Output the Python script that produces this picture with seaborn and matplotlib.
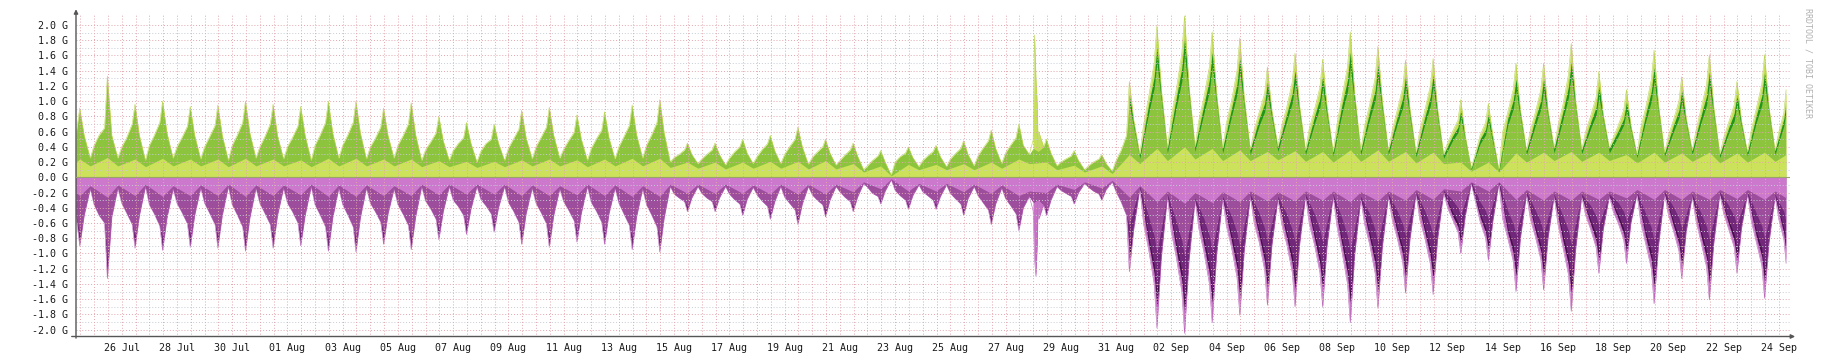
import numpy as np
import pandas as pd
import matplotlib
matplotlib.use("Agg")
import matplotlib.pyplot as plt
import seaborn as sns

sns.set_style("white")
plt.rcParams["font.family"] = ["DejaVu Sans Mono", "DejaVu Sans"]

# DATA (values in G)
# time axis = days since 24 Jul 00:00, day k = 1..62 is the k-th midnight.
# Each day is read at a few moments: peak (just before midnight), post
# (after midnight), trough (morning), morn, rise (afternoon), eve.
t_start = 0.845
t_end = 62.76
offsets = {"pk": -0.02, "post": 0.14, "tr": 0.36, "morn": 0.50, "ri": 0.68, "ev": 0.88}

# ---- upper side (green) ----
up_peak = [0.91, 1.33, 0.96, 1.00, 0.93, 0.95, 1.00, 0.96, 0.93, 1.00,
           1.00, 0.91, 0.98, 0.80, 0.72, 0.70, 0.88, 0.92, 0.82, 0.86,
           0.95, 1.02, 0.45, 0.45, 0.50, 0.55, 0.66, 0.50, 0.45, 0.35,
           0.40, 0.42, 0.48, 0.62, 0.70, 0.50, 0.35, 0.30, 1.26, 1.99,
           2.12, 1.91, 1.83, 1.45, 1.63, 1.55, 1.91, 1.72, 1.54, 1.56,
           1.02, 0.97, 1.50, 1.50, 1.76, 1.39, 1.15, 1.67, 1.32, 1.61,
           1.26, 1.61]
up_post = [0.55, 0.55, 0.55, 0.58, 0.55, 0.55, 0.58, 0.55, 0.55, 0.58,
           0.58, 0.55, 0.56, 0.48, 0.45, 0.45, 0.52, 0.55, 0.50, 0.52,
           0.56, 0.58, 0.30, 0.30, 0.32, 0.35, 0.40, 0.32, 0.28, 0.20,
           0.26, 0.27, 0.30, 0.38, 0.42, 0.32, 0.22, 0.18, 0.75, 1.15,
           1.20, 1.10, 1.05, 0.88, 0.95, 0.92, 1.10, 1.00, 0.90, 0.90,
           0.55, 0.55, 0.88, 0.88, 1.00, 0.82, 0.68, 0.95, 0.78, 0.92,
           0.75, 0.92]
up_trough = [0.25, 0.25, 0.22, 0.25, 0.24, 0.22, 0.25, 0.24, 0.22, 0.25,
             0.24, 0.25, 0.22, 0.22, 0.20, 0.22, 0.24, 0.25, 0.22, 0.24,
             0.25, 0.20, 0.18, 0.16, 0.18, 0.18, 0.17, 0.16, 0.10, 0.03,
             0.14, 0.14, 0.15, 0.18, 0.30, 0.15, 0.10, 0.08, 0.30, 0.38,
             0.40, 0.38, 0.36, 0.40, 0.35, 0.33, 0.35, 0.35, 0.32, 0.30,
             0.12, 0.10, 0.35, 0.38, 0.36, 0.38, 0.30, 0.32, 0.35, 0.30,
             0.33, 0.35]
up_morn = [0.42, 0.40, 0.42, 0.40, 0.40, 0.42, 0.40, 0.40, 0.42, 0.42,
           0.40, 0.42, 0.36, 0.35, 0.34, 0.38, 0.40, 0.37, 0.38, 0.40,
           0.42, 0.26, 0.24, 0.25, 0.27, 0.30, 0.26, 0.22, 0.15, 0.20,
           0.22, 0.24, 0.28, 0.32, 0.38, 0.20, 0.15, 0.22, 0.70, 0.80,
           0.75, 0.72, 0.62, 0.68, 0.65, 0.70, 0.68, 0.62, 0.62, 0.45,
           0.30, 0.60, 0.62, 0.68, 0.60, 0.52, 0.65, 0.55, 0.62, 0.52,
           0.62, 0.60]
up_rise = [0.55, 0.52, 0.55, 0.52, 0.53, 0.55, 0.53, 0.52, 0.55, 0.55,
           0.51, 0.54, 0.46, 0.44, 0.44, 0.50, 0.52, 0.48, 0.50, 0.53,
           0.55, 0.30, 0.30, 0.33, 0.36, 0.40, 0.33, 0.29, 0.22, 0.27,
           0.28, 0.31, 0.38, 0.42, 0.34, 0.24, 0.20, 0.35, 1.05, 1.15,
           1.05, 1.00, 0.85, 0.92, 0.88, 1.05, 0.95, 0.88, 0.88, 0.60,
           0.55, 0.85, 0.85, 0.95, 0.80, 0.68, 0.92, 0.75, 0.90, 0.72,
           0.90, 0.85]
up_eve = [0.65, 0.70, 0.72, 0.67, 0.68, 0.72, 0.70, 0.67, 0.72, 0.72,
          0.66, 0.70, 0.58, 0.52, 0.50, 0.63, 0.66, 0.59, 0.62, 0.68,
          0.72, 0.36, 0.36, 0.40, 0.44, 0.50, 0.40, 0.36, 0.28, 0.32,
          0.34, 0.38, 0.48, 0.52, 0.40, 0.28, 0.24, 0.55, 1.50, 1.62,
          1.45, 1.40, 1.10, 1.25, 1.18, 1.45, 1.30, 1.18, 1.20, 0.75,
          0.72, 1.15, 1.15, 1.35, 1.05, 0.88, 1.28, 1.00, 1.22, 0.95,
          1.22, 1.05]
up_base_pk = [0.24, 0.26, 0.24, 0.25, 0.24, 0.24, 0.25, 0.24, 0.23, 0.25,
              0.25, 0.24, 0.24, 0.22, 0.21, 0.21, 0.23, 0.24, 0.23, 0.24,
              0.25, 0.25, 0.20, 0.20, 0.20, 0.21, 0.21, 0.22, 0.18, 0.15,
              0.17, 0.17, 0.18, 0.20, 0.24, 0.20, 0.16, 0.15, 0.30, 0.38,
              0.40, 0.38, 0.36, 0.34, 0.35, 0.34, 0.36, 0.36, 0.34, 0.33,
              0.20, 0.20, 0.32, 0.33, 0.34, 0.33, 0.30, 0.33, 0.32, 0.33,
              0.32, 0.33]
up_base_tr = [0.15, 0.15, 0.14, 0.15, 0.15, 0.14, 0.15, 0.15, 0.14, 0.15,
              0.15, 0.15, 0.14, 0.14, 0.13, 0.14, 0.15, 0.15, 0.14, 0.15,
              0.15, 0.13, 0.12, 0.11, 0.12, 0.12, 0.11, 0.11, 0.07, 0.02,
              0.10, 0.10, 0.10, 0.12, 0.18, 0.10, 0.07, 0.05, 0.18, 0.22,
              0.24, 0.22, 0.22, 0.23, 0.21, 0.20, 0.21, 0.21, 0.19, 0.18,
              0.08, 0.07, 0.20, 0.22, 0.21, 0.22, 0.19, 0.20, 0.21, 0.19,
              0.20, 0.21]
# September inner layers (days 39..62): dark green band and main green
sep_up_dark_pk = [1.08, 1.71, 1.82, 1.64, 1.57, 1.25, 1.40, 1.33, 1.64, 1.48,
                  1.32, 1.34, 0.88, 0.83, 1.29, 1.29, 1.51, 1.20, 0.99, 1.44,
                  1.14, 1.38, 1.08, 1.38]
sep_up_dark_ri = [0.95, 1.04, 0.95, 0.90, 0.77, 0.83, 0.79, 0.95, 0.86, 0.79,
                  0.79, 0.54, 0.50, 0.77, 0.77, 0.86, 0.72, 0.61, 0.83, 0.68,
                  0.81, 0.65, 0.81, 0.77]
sep_up_dark_ev = [1.32, 1.43, 1.28, 1.23, 0.97, 1.10, 1.04, 1.28, 1.14, 1.04,
                  1.06, 0.66, 0.63, 1.01, 1.01, 1.19, 0.92, 0.77, 1.13, 0.88,
                  1.07, 0.84, 1.07, 0.92]
sep_up_mid_pk = [0.96, 1.51, 1.61, 1.45, 1.39, 1.10, 1.24, 1.18, 1.45, 1.31,
                 1.17, 1.19, 0.78, 0.74, 1.14, 1.14, 1.34, 1.06, 0.87, 1.27,
                 1.00, 1.22, 0.96, 1.22]
sep_up_mid_tr = [0.25, 0.32, 0.34, 0.32, 0.30, 0.34, 0.30, 0.28, 0.30, 0.30,
                 0.27, 0.25, 0.10, 0.08, 0.30, 0.32, 0.31, 0.32, 0.26, 0.28,
                 0.30, 0.26, 0.28, 0.30]
sep_up_mid_ri = [0.84, 0.92, 0.84, 0.80, 0.68, 0.74, 0.70, 0.84, 0.76, 0.70,
                 0.70, 0.48, 0.44, 0.68, 0.68, 0.76, 0.64, 0.54, 0.74, 0.60,
                 0.72, 0.58, 0.72, 0.68]
sep_up_mid_ev = [1.17, 1.26, 1.13, 1.09, 0.86, 0.98, 0.92, 1.13, 1.01, 0.92,
                 0.94, 0.59, 0.56, 0.90, 0.90, 1.05, 0.82, 0.69, 1.00, 0.78,
                 0.95, 0.74, 0.95, 0.82]

# ---- lower side (purple), as magnitudes ----
lo_peak = [0.90, 1.33, 0.93, 0.96, 0.92, 0.93, 0.97, 0.93, 0.90, 0.97,
           0.98, 0.88, 0.95, 0.82, 0.75, 0.72, 0.88, 0.92, 0.85, 0.88,
           0.95, 0.98, 0.45, 0.45, 0.50, 0.55, 0.62, 0.52, 0.45, 0.35,
           0.42, 0.42, 0.50, 0.62, 0.70, 0.50, 0.35, 0.30, 1.24, 1.98,
           2.05, 1.91, 1.81, 1.68, 1.70, 1.70, 1.91, 1.72, 1.52, 1.54,
           1.00, 1.09, 1.50, 1.48, 1.76, 1.26, 1.13, 1.66, 1.33, 1.61,
           1.26, 1.59]
lo_post = [0.50, 0.52, 0.50, 0.53, 0.50, 0.50, 0.53, 0.50, 0.50, 0.53,
           0.53, 0.48, 0.52, 0.45, 0.42, 0.40, 0.48, 0.50, 0.47, 0.48,
           0.52, 0.53, 0.27, 0.27, 0.29, 0.32, 0.35, 0.30, 0.26, 0.18,
           0.24, 0.25, 0.28, 0.35, 0.40, 0.30, 0.20, 0.16, 0.68, 1.05,
           1.10, 1.02, 0.97, 0.90, 0.90, 0.90, 1.02, 0.92, 0.82, 0.82,
           0.52, 0.58, 0.80, 0.80, 0.95, 0.68, 0.60, 0.90, 0.72, 0.87,
           0.68, 0.86]
lo_trough = [0.15, 0.14, 0.12, 0.15, 0.14, 0.12, 0.14, 0.14, 0.12, 0.14,
             0.14, 0.15, 0.12, 0.12, 0.12, 0.12, 0.14, 0.15, 0.12, 0.14,
             0.15, 0.12, 0.12, 0.12, 0.13, 0.12, 0.12, 0.12, 0.08, 0.03,
             0.10, 0.10, 0.12, 0.14, 0.25, 0.12, 0.08, 0.06, 0.15, 0.25,
             0.30, 0.28, 0.25, 0.28, 0.25, 0.25, 0.28, 0.25, 0.22, 0.20,
             0.08, 0.08, 0.22, 0.25, 0.25, 0.25, 0.22, 0.22, 0.25, 0.22,
             0.22, 0.25]
lo_morn = [0.36, 0.34, 0.36, 0.34, 0.34, 0.36, 0.34, 0.34, 0.36, 0.36,
           0.34, 0.36, 0.31, 0.30, 0.29, 0.33, 0.34, 0.32, 0.33, 0.34,
           0.36, 0.22, 0.21, 0.22, 0.23, 0.26, 0.23, 0.19, 0.13, 0.17,
           0.19, 0.21, 0.24, 0.28, 0.33, 0.17, 0.13, 0.19, 0.62, 0.72,
           0.68, 0.65, 0.60, 0.62, 0.62, 0.65, 0.62, 0.56, 0.56, 0.40,
           0.30, 0.55, 0.55, 0.62, 0.50, 0.45, 0.60, 0.50, 0.58, 0.48,
           0.58, 0.56]
lo_rise = [0.50, 0.47, 0.48, 0.46, 0.47, 0.49, 0.47, 0.45, 0.49, 0.49,
           0.45, 0.48, 0.41, 0.38, 0.37, 0.44, 0.46, 0.43, 0.44, 0.48,
           0.49, 0.27, 0.27, 0.29, 0.31, 0.34, 0.30, 0.26, 0.21, 0.24,
           0.24, 0.28, 0.33, 0.37, 0.29, 0.21, 0.18, 0.32, 0.95, 1.05,
           0.98, 0.92, 0.85, 0.88, 0.88, 0.98, 0.88, 0.80, 0.80, 0.55,
           0.58, 0.80, 0.78, 0.92, 0.68, 0.60, 0.88, 0.70, 0.85, 0.68,
           0.85, 0.82]
lo_eve = [0.60, 0.62, 0.64, 0.61, 0.62, 0.65, 0.62, 0.60, 0.65, 0.65,
          0.59, 0.63, 0.55, 0.50, 0.48, 0.59, 0.61, 0.57, 0.59, 0.63,
          0.65, 0.32, 0.32, 0.35, 0.38, 0.43, 0.36, 0.32, 0.25, 0.30,
          0.30, 0.35, 0.43, 0.48, 0.36, 0.25, 0.22, 0.50, 1.40, 1.50,
          1.40, 1.32, 1.22, 1.25, 1.25, 1.40, 1.26, 1.12, 1.14, 0.72,
          0.80, 1.10, 1.08, 1.28, 0.92, 0.82, 1.20, 0.97, 1.18, 0.92,
          1.16, 1.10]
lo_mid_pk = [0.74, 1.05, 0.76, 0.79, 0.75, 0.76, 0.80, 0.76, 0.74, 0.80,
             0.80, 0.72, 0.78, 0.67, 0.62, 0.59, 0.72, 0.75, 0.70, 0.72,
             0.78, 0.80, 0.38, 0.38, 0.42, 0.46, 0.52, 0.42, 0.38, 0.30,
             0.36, 0.36, 0.42, 0.52, 0.58, 0.42, 0.30, 0.26, 0.62, 0.99,
             1.03, 0.96, 0.91, 0.84, 0.85, 0.85, 0.96, 0.86, 0.76, 0.77,
             0.50, 0.55, 0.75, 0.74, 0.88, 0.63, 0.57, 0.83, 0.67, 0.81,
             0.63, 0.80]
lo_base_pk = [0.24, 0.26, 0.24, 0.25, 0.24, 0.24, 0.25, 0.24, 0.23, 0.25,
              0.25, 0.24, 0.24, 0.23, 0.22, 0.22, 0.24, 0.24, 0.23, 0.24,
              0.25, 0.25, 0.21, 0.21, 0.21, 0.22, 0.22, 0.22, 0.19, 0.15,
              0.18, 0.18, 0.19, 0.21, 0.24, 0.20, 0.16, 0.14, 0.26, 0.32,
              0.34, 0.33, 0.32, 0.31, 0.31, 0.30, 0.32, 0.31, 0.30, 0.29,
              0.18, 0.18, 0.29, 0.30, 0.30, 0.29, 0.27, 0.29, 0.29, 0.29,
              0.28, 0.29]
lo_base_tr = [0.11, 0.10, 0.09, 0.11, 0.10, 0.09, 0.10, 0.10, 0.09, 0.10,
              0.10, 0.11, 0.09, 0.09, 0.09, 0.09, 0.10, 0.11, 0.09, 0.10,
              0.11, 0.09, 0.09, 0.09, 0.10, 0.09, 0.09, 0.09, 0.06, 0.02,
              0.08, 0.08, 0.09, 0.10, 0.18, 0.09, 0.06, 0.04, 0.11, 0.18,
              0.20, 0.19, 0.18, 0.19, 0.18, 0.18, 0.19, 0.18, 0.16, 0.15,
              0.06, 0.06, 0.16, 0.18, 0.18, 0.18, 0.16, 0.16, 0.18, 0.16,
              0.16, 0.18]
# September inner layers (days 39..62): near-black, dark and medium purple
sep_lo_vdark_pk = [1.07, 1.70, 1.76, 1.64, 1.56, 1.44, 1.46, 1.46, 1.64, 1.48,
                   1.31, 1.32, 0.86, 0.94, 1.29, 1.27, 1.51, 1.08, 0.97, 1.43,
                   1.14, 1.38, 1.08, 1.37]
sep_lo_vdark_ri = [0.86, 0.95, 0.88, 0.83, 0.77, 0.79, 0.79, 0.88, 0.79, 0.72,
                   0.72, 0.50, 0.52, 0.72, 0.70, 0.83, 0.61, 0.54, 0.79, 0.63,
                   0.77, 0.61, 0.77, 0.74]
sep_lo_vdark_ev = [1.26, 1.35, 1.26, 1.19, 1.10, 1.13, 1.13, 1.26, 1.13, 1.01,
                   1.03, 0.65, 0.72, 0.99, 0.97, 1.15, 0.83, 0.74, 1.08, 0.87,
                   1.06, 0.83, 1.04, 0.99]
sep_lo_dark_pk = [0.97, 1.54, 1.60, 1.49, 1.41, 1.31, 1.33, 1.33, 1.49, 1.34,
                  1.19, 1.20, 0.78, 0.85, 1.17, 1.15, 1.37, 0.98, 0.88, 1.29,
                  1.04, 1.26, 0.98, 1.24]
sep_lo_dark_ri = [0.78, 0.86, 0.80, 0.75, 0.70, 0.72, 0.72, 0.80, 0.72, 0.66,
                  0.66, 0.45, 0.48, 0.66, 0.64, 0.75, 0.56, 0.49, 0.72, 0.57,
                  0.70, 0.56, 0.70, 0.67]
sep_lo_dark_ev = [1.15, 1.23, 1.15, 1.08, 1.00, 1.03, 1.03, 1.15, 1.03, 0.92,
                  0.93, 0.59, 0.66, 0.90, 0.89, 1.05, 0.75, 0.67, 0.98, 0.80,
                  0.97, 0.75, 0.95, 0.90]
sep_lo_mid_tr = [0.12, 0.22, 0.27, 0.25, 0.22, 0.25, 0.22, 0.22, 0.25, 0.22,
                 0.19, 0.17, 0.06, 0.06, 0.19, 0.22, 0.22, 0.22, 0.19, 0.19,
                 0.22, 0.19, 0.19, 0.22]
sep_lo_mid_ri = [0.52, 0.58, 0.54, 0.51, 0.47, 0.48, 0.48, 0.54, 0.48, 0.44,
                 0.44, 0.30, 0.32, 0.44, 0.43, 0.51, 0.37, 0.33, 0.48, 0.39,
                 0.47, 0.37, 0.47, 0.45]
sep_lo_mid_ev = [0.77, 0.83, 0.77, 0.73, 0.67, 0.69, 0.69, 0.77, 0.69, 0.62,
                 0.63, 0.40, 0.44, 0.61, 0.59, 0.70, 0.51, 0.45, 0.66, 0.53,
                 0.65, 0.51, 0.64, 0.61]

# values at the left / right edge of the graph
up_edge = [0.55, 1.15]
up_dark_edge = [0.99]
up_mid_edge = [0.88]
up_base_edge = [0.20, 0.30]
lo_edge = [0.50, 1.13]
lo_vdark_edge = [1.00]
lo_dark_edge = [0.92]
lo_mid_edge = [0.60]
lo_base_edge = [0.20, 0.27]

# short burst on 28 Aug
spike_t = [35.50, 35.55, 35.60, 35.65, 35.70]
spike_up = [0.60, 1.87, 1.30, 0.95, 0.60]
spike_lo = [0.55, 1.08, 1.30, 0.85, 0.55]

# x labels every 2 days
label_dates = pd.date_range("2013-07-26", "2013-09-24", freq="2D")

n_aug = 38  # days 1..38 (before September)


def series(first_day, pts, extra_t=(), extra_v=()):
    t, v = list(extra_t), list(extra_v)
    for key, vals in pts.items():
        d = np.arange(first_day, first_day + len(vals))
        t += list(d + offsets[key])
        v += list(vals)
    s = pd.Series(v, index=t).sort_index()
    s = s[(s.index >= t_start) & (s.index <= t_end)]
    return s.index.values, s.values


def join(a, b):
    return np.concatenate([a[0], b[0]]), np.concatenate([a[1], b[1]])


def draw_side(ax, layers, sign):
    clip = None
    for (t, v), color in layers:
        poly = ax.fill_between(t, 0, sign * v, color=color, linewidth=0, zorder=2)
        if clip is None:
            clip = poly.get_paths()[0]
        else:
            poly.set_clip_path(clip, ax.transData)


def early(lists, n=n_aug):
    return {k: v[:n] for k, v in lists.items()}


up_env = {"pk": up_peak, "post": up_post, "tr": up_trough,
          "morn": up_morn, "ri": up_rise, "ev": up_eve}
lo_env = {"pk": lo_peak, "post": lo_post, "tr": lo_trough,
          "morn": lo_morn, "ri": lo_rise, "ev": lo_eve}
lo_env_mid = dict(lo_env, pk=lo_mid_pk)

up_layers = [
    (series(1, up_env, [t_start, t_end] + spike_t, up_edge + spike_up), "#c6de58"),
    (series(39, {"pk": sep_up_dark_pk, "tr": up_trough[n_aug:],
                 "ri": sep_up_dark_ri, "ev": sep_up_dark_ev},
            [t_end], up_dark_edge), "#1f951c"),
    (join(series(1, early(up_env), [t_start], up_edge[:1]),
          series(39, {"pk": sep_up_mid_pk, "tr": sep_up_mid_tr,
                      "ri": sep_up_mid_ri, "ev": sep_up_mid_ev},
                 [t_end], up_mid_edge)), "#8cc43e"),
    (series(1, {"pk": up_base_pk, "tr": up_base_tr}, [t_start, t_end], up_base_edge), "#cbe25a"),
]
lo_layers = [
    (series(1, lo_env, [t_start, t_end] + spike_t, lo_edge + spike_lo), "#c771c7"),
    (series(39, {"pk": sep_lo_vdark_pk, "tr": lo_trough[n_aug:],
                 "ri": sep_lo_vdark_ri, "ev": sep_lo_vdark_ev},
            [t_end], lo_vdark_edge), "#44104a"),
    (join(series(1, early(lo_env), [t_start], lo_edge[:1]),
          series(39, {"pk": sep_lo_dark_pk, "tr": lo_trough[n_aug:],
                      "ri": sep_lo_dark_ri, "ev": sep_lo_dark_ev},
                 [t_end], lo_dark_edge)), "#72287a"),
    (join(series(1, early(lo_env_mid), [t_start], lo_edge[:1]),
          series(39, {"pk": lo_mid_pk[n_aug:], "tr": sep_lo_mid_tr,
                      "ri": sep_lo_mid_ri, "ev": sep_lo_mid_ev},
                 [t_end], lo_mid_edge)), "#9c4d9c"),
    (series(1, {"pk": lo_base_pk, "tr": lo_base_tr}, [t_start, t_end], lo_base_edge), "#cc78cc"),
]

# FIGURE
W, H = 1845, 363
fig = plt.figure(figsize=(W / 100, H / 100), dpi=100)
fig.patch.set_facecolor("white")
ax = fig.add_axes([76 / W, 1 - 336.5 / H, (1790 - 76) / W, (336.5 - 15) / H])
ax.set_facecolor("white")

draw_side(ax, up_layers, 1)
draw_side(ax, lo_layers, -1)

# thin outline along the outer envelope
t_env, v_env = up_layers[0][0]
sns.lineplot(x=t_env, y=v_env, ax=ax, color="#b8d450", linewidth=0.4, zorder=2.5)
t_env, v_env = lo_layers[0][0]
sns.lineplot(x=t_env, y=-v_env, ax=ax, color="#b763b7", linewidth=0.4, zorder=2.5)

ax.axhline(0, color="#9aa46a", lw=0.8, zorder=4)

# grid, drawn over the data like rrdtool
dots = (0, (1, 2))
for i in range(-20, 21):
    col = "#e3a6ae" if i % 2 == 0 else "#c6ccd6"
    if i != 0:
        ax.axhline(i / 10, color=col, lw=0.7, ls=dots, zorder=3)
for x in np.arange(1, 63, 0.5):
    ax.axvline(x, color="#e3a6ae", lw=0.7, ls=dots, zorder=3)

x_max = t_start + (1790 - 76) / 27.62
ax.set_xlim(t_start, x_max)
ax.set_ylim(-2.09, 2.131)

yt = np.round(np.arange(-2.0, 2.01, 0.2), 1)
ax.set_yticks(yt)
ax.set_yticklabels([f"{abs(v):.1f} G" if v == 0 else f"{v:.1f} G" for v in yt])
ax.set_yticks(np.round(np.arange(-2.0, 2.01, 0.1), 1), minor=True)

xt = [(d - pd.Timestamp("2013-07-24")).days + 0.5 for d in label_dates]
ax.set_xticks(xt)
ax.set_xticklabels([d.strftime("%d %b") for d in label_dates])
ax.set_xticks(np.arange(1, 63, 1), minor=True)

ax.tick_params(axis="y", which="major", length=2.5, width=0.8, color="#555555",
               pad=3, labelsize=7.2, labelcolor="#1a1a1a")
ax.tick_params(axis="y", which="minor", length=1.5, width=0.8, color="#555555")
ax.tick_params(axis="x", which="major", length=0, pad=5, labelsize=7.2,
               labelcolor="#1a1a1a")
ax.tick_params(axis="x", which="minor", length=2.5, width=0.8, color="#555555")

for s in ax.spines.values():
    s.set_visible(False)

# axis lines with arrows
ax.annotate("", xy=(0, 1.018), xytext=(0, -0.005), xycoords="axes fraction",
            arrowprops=dict(arrowstyle="-|>", color="#555555", lw=1.0,
                            mutation_scale=6, shrinkA=0, shrinkB=0))
ax.annotate("", xy=(1.003, 0), xytext=(-0.0025, 0), xycoords="axes fraction",
            arrowprops=dict(arrowstyle="-|>", color="#555555", lw=1.0,
                            mutation_scale=6, shrinkA=0, shrinkB=0))

fig.text(1808 / W, 1 - 63 / H, "RRDTOOL / TOBI OETIKER", rotation=270,
         ha="center", va="center", fontsize=6, color="#b0b0b0")

plt.savefig("out.png", dpi=100, facecolor="white")
plt.close()
